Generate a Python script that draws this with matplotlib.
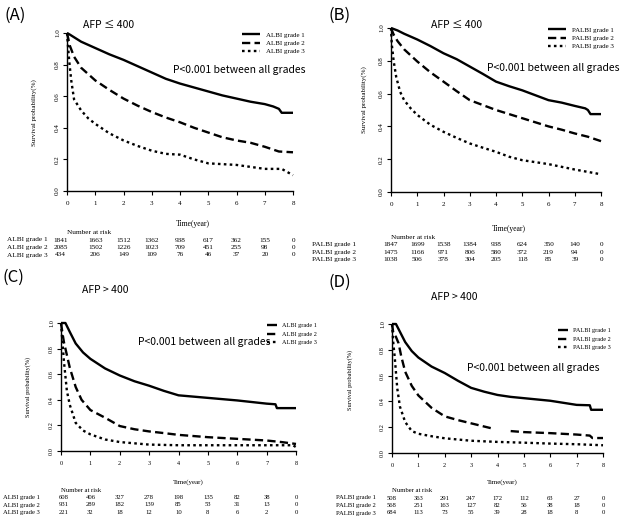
import numpy as np
import matplotlib
matplotlib.use("Agg")
import matplotlib.pyplot as plt
from matplotlib.transforms import blended_transform_factory

W, H = 625, 522
SERIF = ["Liberation Serif", "DejaVu Serif"]
SANS = ["Noto Sans CJK KR", "DejaVu Sans"]

# ---- survival curves (time in years, survival prob) ----
a_t1 = [0, 0.1, 0.5, 1, 1.5, 2, 2.5, 3, 3.5, 4, 4.5, 5, 5.5, 6, 6.5, 7, 7.3, 7.5, 7.6, 8]
a_s1 = [1.0, 0.99, 0.945, 0.905, 0.865, 0.83, 0.79, 0.75, 0.71, 0.68, 0.655, 0.63, 0.605, 0.585, 0.565, 0.55, 0.535, 0.52, 0.495, 0.495]
a_t2 = [0, 0.05, 0.1, 0.25, 0.5, 1, 1.5, 2, 2.5, 3, 3.5, 4, 4.5, 5, 5.5, 6, 6.5, 7, 7.5, 8]
a_s2 = [1.0, 0.96, 0.92, 0.85, 0.78, 0.70, 0.64, 0.585, 0.54, 0.50, 0.465, 0.435, 0.40, 0.37, 0.34, 0.32, 0.305, 0.28, 0.25, 0.245]
a_t3 = [0, 0.03, 0.08, 0.15, 0.25, 0.5, 0.75, 1, 1.5, 2, 2.5, 3, 3.5, 4, 4.5, 5, 6, 7, 7.6, 7.8, 8]
a_s3 = [1.0, 0.93, 0.82, 0.70, 0.58, 0.51, 0.46, 0.425, 0.365, 0.32, 0.285, 0.255, 0.235, 0.23, 0.20, 0.175, 0.165, 0.14, 0.14, 0.12, 0.10]

b_t1 = [0, 0.25, 0.5, 1, 1.5, 2, 2.5, 3, 3.5, 4, 4.5, 5, 5.5, 6, 6.5, 7, 7.4, 7.5, 7.6, 8]
b_s1 = [1.0, 0.985, 0.965, 0.93, 0.89, 0.846, 0.81, 0.765, 0.72, 0.673, 0.645, 0.62, 0.59, 0.56, 0.545, 0.525, 0.51, 0.50, 0.475, 0.475]
b_t2 = [0, 0.1, 0.25, 0.5, 1, 1.5, 2, 2.5, 3, 3.5, 4, 4.5, 5, 5.5, 6, 6.5, 7, 7.5, 8]
b_s2 = [1.0, 0.96, 0.92, 0.87, 0.796, 0.73, 0.673, 0.615, 0.56, 0.53, 0.50, 0.475, 0.45, 0.425, 0.40, 0.38, 0.357, 0.337, 0.31]
b_t3 = [0, 0.03, 0.1, 0.2, 0.35, 0.5, 0.75, 1, 1.5, 2, 2.5, 3, 3.5, 4, 4.5, 5, 6, 7, 8]
b_s3 = [1.0, 0.9, 0.8, 0.70, 0.61, 0.56, 0.51, 0.47, 0.41, 0.367, 0.33, 0.296, 0.27, 0.245, 0.215, 0.194, 0.17, 0.137, 0.108]

c_t1 = [0, 0.15, 0.3, 0.5, 0.75, 1, 1.5, 2, 2.5, 3, 3.5, 4, 4.5, 5, 6, 7, 7.3, 7.35, 8]
c_s1 = [1.0, 1.0, 0.93, 0.84, 0.77, 0.72, 0.645, 0.59, 0.545, 0.51, 0.47, 0.435, 0.425, 0.415, 0.395, 0.37, 0.365, 0.335, 0.335]
c_t2 = [0, 0.05, 0.1, 0.2, 0.3, 0.5, 0.7, 1, 1.5, 2, 2.5, 3, 3.5, 4, 5, 6, 7, 7.5, 8]
c_s2 = [1.0, 0.92, 0.85, 0.75, 0.65, 0.50, 0.40, 0.32, 0.26, 0.195, 0.17, 0.153, 0.14, 0.126, 0.108, 0.095, 0.082, 0.07, 0.055]
c_t3 = [0, 0.05, 0.1, 0.2, 0.3, 0.5, 0.75, 1, 1.5, 2, 3, 4, 5, 6, 7, 7.9, 8]
c_s3 = [1.0, 0.85, 0.70, 0.47, 0.36, 0.22, 0.16, 0.13, 0.09, 0.07, 0.05, 0.045, 0.045, 0.045, 0.045, 0.045, 0.03]

d_t1 = [0, 0.15, 0.3, 0.5, 0.75, 1, 1.5, 2, 2.5, 3, 3.5, 4, 4.5, 5, 6, 7, 7.5, 7.55, 8]
d_s1 = [1.0, 1.0, 0.94, 0.86, 0.79, 0.74, 0.67, 0.62, 0.56, 0.505, 0.475, 0.45, 0.435, 0.425, 0.405, 0.373, 0.37, 0.335, 0.335]
d_t2 = [0, 0.05, 0.15, 0.25, 0.35, 0.5, 0.75, 1, 1.5, 2, 2.5, 3, 3.5, 3.8, 4.1, 4.5, 5, 6, 7, 7.5, 7.6, 8]
d_s2 = [1.0, 0.93, 0.9, 0.85, 0.75, 0.63, 0.52, 0.446, 0.35, 0.284, 0.255, 0.23, 0.205, 0.19, np.nan, 0.17, 0.162, 0.154, 0.143, 0.135, 0.116, 0.116]
d_t3 = [0, 0.05, 0.1, 0.2, 0.3, 0.5, 0.75, 1, 1.5, 2, 3, 4, 5, 6, 7, 8]
d_s3 = [1.0, 0.85, 0.75, 0.5, 0.36, 0.24, 0.17, 0.149, 0.13, 0.114, 0.095, 0.086, 0.08, 0.073, 0.068, 0.06]

# ---- numbers at risk ----
risk_times = [0, 1, 2, 3, 4, 5, 6, 7, 8]
a_risk_labels = ["ALBI grade 1", "ALBI grade 2", "ALBI grade 3"]
a_risk = [[1841, 1663, 1512, 1362, 938, 617, 362, 155, 0],
          [2085, 1502, 1226, 1023, 709, 451, 255, 98, 0],
          [434, 206, 149, 109, 76, 46, 37, 20, 0]]
b_risk_labels = ["PALBI grade 1", "PALBI grade 2", "PALBI grade 3"]
b_risk = [[1847, 1699, 1538, 1384, 938, 624, 350, 140, 0],
          [1475, 1166, 971, 806, 580, 372, 219, 94, 0],
          [1038, 506, 378, 304, 205, 118, 85, 39, 0]]
c_risk = [[608, 406, 327, 278, 198, 135, 82, 38, 0],
          [931, 289, 182, 139, 85, 53, 31, 13, 0],
          [221, 32, 18, 12, 10, 8, 6, 2, 0]]
d_risk = [[508, 363, 291, 247, 172, 112, 63, 27, 0],
          [568, 251, 163, 127, 82, 56, 38, 18, 0],
          [684, 113, 73, 55, 39, 28, 18, 8, 0]]

line_styles = ["-", (0, (3.5, 1.8)), (0, (1.1, 1.4))]


def fx(x):
    return x / W


def fy(y):
    return 1 - y / H


def panel(fig, curves, risk, row_labels, L):
    x0, x1, ytop, ybot = L["axes"]
    ax = fig.add_axes([fx(x0), fy(ybot), fx(x1 - x0), (ybot - ytop) / H])
    handles = []
    for (t, s), ls in zip(curves, line_styles):
        h, = ax.plot(t, s, color="black", lw=1.7, ls=ls, clip_on=False,
                     dash_capstyle="butt", solid_capstyle="butt")
        handles.append(h)
    ax.set_xlim(0, 8)
    ax.set_ylim(0, 1)
    for sp in ["top", "right"]:
        ax.spines[sp].set_visible(False)
    ax.spines["left"].set_linewidth(1.0)
    ax.spines["bottom"].set_linewidth(1.0)
    ax.set_xticks(risk_times)
    ax.set_xticklabels([str(v) for v in risk_times], fontfamily=SERIF, fontsize=L["tick_fs"])
    yt = [0, 0.2, 0.4, 0.6, 0.8, 1.0]
    ax.set_yticks(yt)
    ax.set_yticklabels(["%.1f" % v for v in yt], fontfamily=SERIF, fontsize=L["tick_fs"],
                       rotation=90, va="center")
    ax.tick_params(direction="out", length=3, width=0.8, pad=2)
    ax.tick_params(axis="x", pad=4)
    ax.patch.set_alpha(0)

    fig.text(fx(L["ylab"][0]), fy(L["ylab"][1]), "Survival probability(%)", rotation=90,
             ha="center", va="center", fontfamily=SERIF, fontsize=L["small_fs"])
    fig.text(fx(L["tag"][0]), fy(L["tag"][1]), L["tag_text"], ha="left", va="center",
             fontfamily=SANS, fontsize=12)
    fig.text(fx(L["afp"][0]), fy(L["afp"][1]), L["afp_text"], ha="left", va="center",
             fontfamily=SANS, fontsize=7.5)
    fig.text(fx(L["p"][0]), fy(L["p"][1]), "P<0.001 between all grades", ha="left",
             va="center", fontfamily=SANS, fontsize=7.5)

    ax.legend(handles, L["legend"], loc="upper left",
              bbox_to_anchor=(fx(L["leg"][0]), fy(L["leg"][1])),
              bbox_transform=fig.transFigure, frameon=False, handlelength=L["hl"],
              handletextpad=0.8, labelspacing=L["ls"], borderpad=0, borderaxespad=0,
              prop={"family": SERIF, "size": L["leg_fs"]})

    fig.text(fx((x0 + x1) / 2 + L["time_dx"]), fy(L["time_y"]), "Time(year)", ha="center",
             va="center", fontfamily=SERIF, fontsize=L["small_fs"] + 0.5)
    tr = blended_transform_factory(ax.transData, fig.transFigure)
    ax.text(0, fy(L["nar_y"]), "Number at risk", ha="left", va="center", transform=tr,
            fontfamily=SERIF, fontsize=L["risk_fs"])
    for r, (lab, row) in enumerate(zip(row_labels, risk)):
        y = fy(L["rows"][r])
        fig.text(fx(L["row_x"]), y, lab, ha="left", va="center", fontfamily=SERIF,
                 fontsize=L["risk_fs"])
        for i, (t, n) in enumerate(zip(risk_times, row)):
            xx = t + (L["first_dx"] if i == 0 else 0)
            ax.text(xx, y, str(n), ha="center", va="center", transform=tr,
                    fontfamily=SERIF, fontsize=L["risk_fs"], clip_on=False)


fig = plt.figure(figsize=(W / 100, H / 100), dpi=100)
fig.patch.set_facecolor("white")

LA = dict(axes=(67, 293, 33, 191), tick_fs=5, ylab=(34, 113), small_fs=5,
          tag=(4, 15), tag_text="(A)", afp=(83, 25), afp_text="AFP \u2264 400",
          p=(173, 70), leg=(242, 32), legend=a_risk_labels, hl=2.6, ls=0.35,
          leg_fs=5, time_dx=13, time_y=224, nar_y=232, rows=(240, 247.5, 255), row_x=7,
          risk_fs=5.2, first_dx=-0.22)
LB = dict(axes=(391, 601, 28, 192), tick_fs=5, ylab=(364, 100), small_fs=5,
          tag=(329, 15), tag_text="(B)", afp=(431, 25), afp_text="AFP \u2264 400",
          p=(487, 68), leg=(548, 27), legend=b_risk_labels, hl=2.6, ls=0.35,
          leg_fs=5, time_dx=13, time_y=229, nar_y=237, rows=(244.5, 252, 259.5), row_x=312,
          risk_fs=5.2, first_dx=0)
LC = dict(axes=(61, 296, 323, 451), tick_fs=4.5, ylab=(28, 387), small_fs=4.5,
          tag=(3, 277), tag_text="(C)", afp=(82, 290), afp_text="AFP > 400",
          p=(138, 342), leg=(267, 323), legend=a_risk_labels, hl=1.6, ls=0.5,
          leg_fs=4.5, time_dx=10, time_y=482, nar_y=490, rows=(497.5, 505, 512.5), row_x=3,
          risk_fs=4.8, first_dx=0.1)
LD = dict(axes=(392, 603, 324, 453), tick_fs=4.5, ylab=(350, 380), small_fs=4.5,
          tag=(329, 282), tag_text="(D)", afp=(431, 297), afp_text="AFP > 400",
          p=(467, 368), leg=(558, 328), legend=b_risk_labels, hl=1.6, ls=0.5,
          leg_fs=4.5, time_dx=5, time_y=482, nar_y=490.5, rows=(498, 505.5, 513), row_x=336,
          risk_fs=4.8, first_dx=0)

panel(fig, [(a_t1, a_s1), (a_t2, a_s2), (a_t3, a_s3)], a_risk, a_risk_labels, LA)
panel(fig, [(b_t1, b_s1), (b_t2, b_s2), (b_t3, b_s3)], b_risk, b_risk_labels, LB)
panel(fig, [(c_t1, c_s1), (c_t2, c_s2), (c_t3, c_s3)], c_risk, a_risk_labels, LC)
panel(fig, [(d_t1, d_s1), (d_t2, d_s2), (d_t3, d_s3)], d_risk, b_risk_labels, LD)

fig.savefig("out.png", dpi=100, facecolor="white")
